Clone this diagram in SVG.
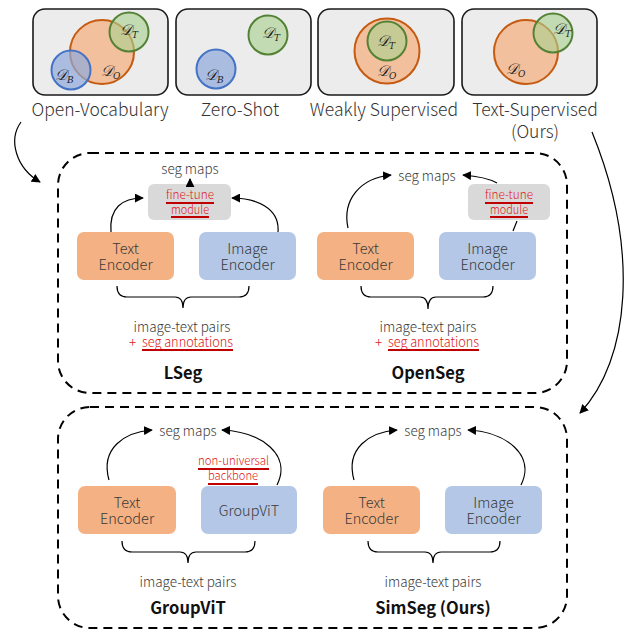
<svg xmlns="http://www.w3.org/2000/svg" width="627" height="631" viewBox="0 0 627 631">
  <defs>
    <marker id="arrow" viewBox="0 0 10 10" refX="9" refY="5" markerWidth="9" markerHeight="9" markerUnits="userSpaceOnUse" orient="auto">
      <path d="M0,0 L10,5 L0,10 z" fill="#000"/>
    </marker>
    <style>
      .panel { fill: #ececec; stroke: #1a1a1a; stroke-width: 1.6; }
      .set-o { fill: #f4b183; fill-opacity: 0.75; stroke: #c55a11; stroke-width: 2; }
      .set-t { fill: #a9d18e; fill-opacity: 0.6; stroke: #548235; stroke-width: 2; }
      .set-b { fill: #8faadc; fill-opacity: 0.7; stroke: #4472c4; stroke-width: 2; }
      .math { font-family: "DejaVu Serif", "Liberation Serif", serif; font-style: italic; fill: #1a1a1a; font-size: 15px; }
      .sub { font-size: 9px; }
      .cap { font-family: "Noto Sans CJK SC", "Noto Sans", sans-serif; font-weight: 300; font-size: 17.5px; fill: #333; text-anchor: middle; }
      .group { fill: none; stroke: #000; stroke-width: 2; stroke-dasharray: 9 6; }
      .enc-t { fill: #f4b183; }
      .enc-i { fill: #b4c7e7; }
      .ft { fill: #d9d9d9; }
      .lbl { font-family: "Noto Sans CJK SC", "Noto Sans", sans-serif; font-weight: 300; font-size: 14.5px; fill: #3a3a3a; text-anchor: middle; }
      .small { font-family: "Noto Sans CJK SC", "Noto Sans", sans-serif; font-weight: 300; font-size: 13.5px; fill: #3a3a3a; text-anchor: middle; }
      .red { font-family: "Noto Sans CJK SC", "Noto Sans", sans-serif; font-weight: 300; font-size: 12px; fill: #e02020; }
      .red13 { font-family: "Noto Sans CJK SC", "Noto Sans", sans-serif; font-weight: 300; font-size: 13.5px; fill: #e02020; }
      .uline { stroke: #c00000; stroke-width: 2; }
      .title { font-family: "Noto Sans CJK SC", "Noto Sans", sans-serif; font-size: 16.5px; font-weight: bold; fill: #111; text-anchor: middle; }
      .edge { fill: none; stroke: #000; stroke-width: 1.2; }
      .brace { fill: none; stroke: #000; stroke-width: 1.2; }
    </style>
  </defs>

  <!-- Set-relation panels -->
  <g id="panel-open-vocabulary">
    <rect class="panel" x="33" y="9" width="135" height="86" rx="12"/>
    <circle class="set-o" cx="102" cy="52" r="32"/>
    <circle class="set-t" cx="129" cy="32" r="19.5"/>
    <circle class="set-b" cx="71" cy="70" r="19.5"/>
    <text class="math" x="120" y="35">𝒟<tspan class="sub" dy="3">T</tspan></text>
    <text class="math" x="101" y="76">𝒟<tspan class="sub" dy="3">O</tspan></text>
    <text class="math" x="55" y="80">𝒟<tspan class="sub" dy="3">B</tspan></text>
    <text class="cap" x="100" y="116">Open-Vocabulary</text>
  </g>

  <g id="panel-zero-shot">
    <rect class="panel" x="176" y="9" width="135" height="86" rx="12"/>
    <circle class="set-t" cx="268" cy="35" r="19.5"/>
    <circle class="set-b" cx="216" cy="69" r="19.5"/>
    <text class="math" x="262" y="38">𝒟<tspan class="sub" dy="3">T</tspan></text>
    <text class="math" x="205" y="80">𝒟<tspan class="sub" dy="3">B</tspan></text>
    <text class="cap" x="240" y="116">Zero-Shot</text>
  </g>

  <g id="panel-weakly-supervised">
    <rect class="panel" x="318" y="9" width="136" height="86" rx="12"/>
    <circle class="set-o" cx="387" cy="51" r="32.5"/>
    <circle class="set-t" cx="387" cy="41" r="19.5"/>
    <text class="math" x="377" y="46">𝒟<tspan class="sub" dy="3">T</tspan></text>
    <text class="math" x="377" y="76">𝒟<tspan class="sub" dy="3">O</tspan></text>
    <text class="cap" x="384" y="116">Weakly Supervised</text>
  </g>

  <g id="panel-text-supervised">
    <rect class="panel" x="462" y="9" width="135" height="86" rx="12"/>
    <circle class="set-o" cx="526" cy="52" r="32"/>
    <circle class="set-t" cx="553" cy="33" r="19.5"/>
    <text class="math" x="553" y="34">𝒟<tspan class="sub" dy="3">T</tspan></text>
    <text class="math" x="506" y="74">𝒟<tspan class="sub" dy="3">O</tspan></text>
    <text class="cap" x="535" y="116">Text-Supervised</text>
    <text class="cap" x="535" y="138">(Ours)</text>
  </g>

  <!-- Method groups -->
  <g id="group-top">
    <rect class="group" x="58" y="153" width="509" height="240" rx="32"/>
  </g>
  <g id="group-bottom">
    <rect class="group" x="58" y="407" width="509" height="221" rx="32"/>
  </g>

  <!-- LSeg -->
  <g id="lseg">
    <text class="small" x="190" y="174">seg maps</text>
    <rect class="ft" x="148" y="184" width="83" height="36" rx="6"/>
    <text class="red" x="166" y="199" textLength="48" lengthAdjust="spacingAndGlyphs">fine-tune</text>
    <line class="uline" x1="166" y1="203" x2="214" y2="203"/>
    <text class="red" x="171" y="214" textLength="38" lengthAdjust="spacingAndGlyphs">module</text>
    <line class="uline" x1="171" y1="217" x2="209" y2="217"/>
    <rect class="enc-t" x="77" y="232" width="97" height="48" rx="7"/>
    <text class="lbl" x="125.5" y="254">Text</text>
    <text class="lbl" x="125.5" y="270">Encoder</text>
    <rect class="enc-i" x="199" y="232" width="97" height="48" rx="7"/>
    <text class="lbl" x="247.5" y="254">Image</text>
    <text class="lbl" x="247.5" y="270">Encoder</text>
    <text class="small" x="182" y="332">image-text pairs</text>
    <text class="red13" x="129" y="347">+</text>
    <text class="red13" x="142" y="347" textLength="91" lengthAdjust="spacingAndGlyphs">seg annotations</text>
    <line class="uline" x1="142" y1="350" x2="233" y2="350"/>
    <text class="title" x="183" y="379">LSeg</text>
  </g>

  <!-- OpenSeg -->
  <g id="openseg">
    <text class="small" x="427" y="181">seg maps</text>
    <rect class="ft" x="468" y="184" width="82" height="36" rx="6"/>
    <text class="red" x="485" y="199" textLength="48" lengthAdjust="spacingAndGlyphs">fine-tune</text>
    <line class="uline" x1="485" y1="203" x2="533" y2="203"/>
    <text class="red" x="490" y="214" textLength="38" lengthAdjust="spacingAndGlyphs">module</text>
    <line class="uline" x1="490" y1="217" x2="528" y2="217"/>
    <rect class="enc-t" x="317" y="232" width="97" height="48" rx="7"/>
    <text class="lbl" x="365.5" y="254">Text</text>
    <text class="lbl" x="365.5" y="270">Encoder</text>
    <rect class="enc-i" x="439" y="232" width="97" height="48" rx="7"/>
    <text class="lbl" x="487.5" y="254">Image</text>
    <text class="lbl" x="487.5" y="270">Encoder</text>
    <text class="small" x="428" y="332">image-text pairs</text>
    <text class="red13" x="375" y="347">+</text>
    <text class="red13" x="388" y="347" textLength="91" lengthAdjust="spacingAndGlyphs">seg annotations</text>
    <line class="uline" x1="388" y1="350" x2="479" y2="350"/>
    <text class="title" x="428" y="379">OpenSeg</text>
  </g>

  <!-- GroupViT -->
  <g id="groupvit">
    <text class="small" x="188" y="436">seg maps</text>
    <text class="red" x="198" y="465" textLength="71" lengthAdjust="spacingAndGlyphs">non-universal</text>
    <line class="uline" x1="198" y1="469" x2="269" y2="469"/>
    <text class="red" x="208" y="480" textLength="50" lengthAdjust="spacingAndGlyphs">backbone</text>
    <line class="uline" x1="208" y1="484" x2="258" y2="484"/>
    <rect class="enc-t" x="78" y="486" width="98" height="48" rx="7"/>
    <text class="lbl" x="127" y="508">Text</text>
    <text class="lbl" x="127" y="524">Encoder</text>
    <rect class="enc-i" x="201" y="486" width="96" height="48" rx="7"/>
    <text class="lbl" x="249" y="516">GroupViT</text>
    <text class="small" x="188" y="587">image-text pairs</text>
    <text class="title" x="188" y="614">GroupViT</text>
  </g>

  <!-- SimSeg -->
  <g id="simseg">
    <text class="small" x="433" y="436">seg maps</text>
    <rect class="enc-t" x="323" y="486" width="97" height="48" rx="7"/>
    <text class="lbl" x="371.5" y="508">Text</text>
    <text class="lbl" x="371.5" y="524">Encoder</text>
    <rect class="enc-i" x="445" y="486" width="97" height="48" rx="7"/>
    <text class="lbl" x="493.5" y="508">Image</text>
    <text class="lbl" x="493.5" y="524">Encoder</text>
    <text class="small" x="433" y="587">image-text pairs</text>
    <text class="title" x="433" y="614">SimSeg (Ours)</text>
  </g>

  <!-- Connectors and braces -->
  <g id="connectors">
    <path class="edge" d="M21,122 C8,140 16,168 40,182" marker-end="url(#arrow)"/>
    <path class="edge" d="M592,132 C640,250 630,360 580,413" marker-end="url(#arrow)"/>

    <path class="edge" d="M190,184 L190,179" marker-end="url(#arrow)"/>
    <path class="edge" d="M111,232 C109,208 122,198 143,198" marker-end="url(#arrow)"/>
    <path class="edge" d="M278,232 C280,208 256,198 232,198" marker-end="url(#arrow)"/>
    <path class="brace" d="M117,286 Q117,297 127,297 L175,297 Q183,297 183,308 Q183,297 191,297 L239,297 Q249,297 249,286"/>

    <path class="edge" d="M348,228 C342,200 360,178 391,175" marker-end="url(#arrow)"/>
    <path class="edge" d="M497,183 C488,178 476,176 463,175" marker-end="url(#arrow)"/>
    <path class="edge" d="M513,231 L517,221"/>
    <path class="brace" d="M361,286 Q361,297 371,297 L420,297 Q428,297 428,309 Q428,297 436,297 L483,297 Q493,297 493,286"/>

    <path class="edge" d="M109,480 C100,448 125,432 152,430" marker-end="url(#arrow)"/>
    <path class="edge" d="M277,485 C292,455 262,432 222,430" marker-end="url(#arrow)"/>
    <path class="brace" d="M122,541 Q122,552 132,552 L180,552 Q188,552 188,563 Q188,552 196,552 L245,552 Q255,552 255,541"/>

    <path class="edge" d="M354,480 C345,448 370,432 397,430" marker-end="url(#arrow)"/>
    <path class="edge" d="M521,485 C536,455 506,432 468,430" marker-end="url(#arrow)"/>
    <path class="brace" d="M368,541 Q368,552 378,552 L425,552 Q433,552 433,563 Q433,552 441,552 L490,552 Q500,552 500,541"/>
  </g>
</svg>
